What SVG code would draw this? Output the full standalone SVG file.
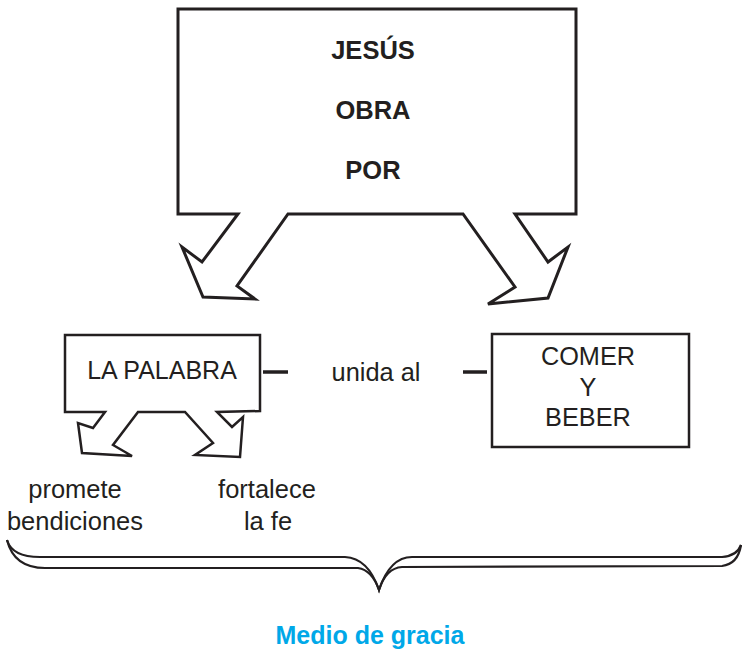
<svg xmlns="http://www.w3.org/2000/svg" width="742" height="654" viewBox="0 0 742 654">
<style>
.shape{fill:#fff;stroke:#231f20;stroke-width:3;stroke-linejoin:miter}
.box{fill:#fff;stroke:#231f20;stroke-width:2.5}
.t{font-family:"Liberation Sans",Arial,sans-serif;fill:#231f20;text-anchor:middle}
.b{font-weight:bold}
.dash{stroke:#231f20;stroke-width:3.5}
.brace{fill:none;stroke:#231f20;stroke-width:2.2}
</style>
<rect width="742" height="654" fill="#fff"/>
<g id="jesus">
<path class="shape" d="M178,9 L576,9 L576,214 L515,214 L548,262 L568,247 L548,298 L488,304 L515,287 L463,214 L288,214 L237,286 L255,299 L203,297 L182,247 L202,262 L238,214 L178,214 Z"/>
<text class="t b" x="373" y="59" font-size="25.5">JESÚS</text>
<text class="t b" x="373" y="119" font-size="25.5">OBRA</text>
<text class="t b" x="373" y="179" font-size="25.5">POR</text>
</g>
<g id="palabra">
<path class="box" d="M65,335 L260,335 L260,411 L217,412 L232,427 L243,417 L240,457 L195,455 L213,443 L185,412 L138,412 L113,445 L132,456 L82,453 L78,423 L93,428 L105,412 L65,412 Z"/>
<text class="t" x="162" y="379" font-size="25">LA PALABRA</text>
</g>
<g id="comer">
<rect class="box" x="492" y="334" width="197" height="113"/>
<text class="t" x="588" y="365" font-size="25.3">COMER</text>
<text class="t" x="588" y="396" font-size="25.3">Y</text>
<text class="t" x="588" y="426" font-size="25.3">BEBER</text>
</g>
<g id="connectors">
<line class="dash" x1="263" y1="372" x2="288" y2="372"/>
<line class="dash" x1="463" y1="372" x2="487" y2="372"/>
<text class="t" x="376" y="381" font-size="25.4">unida al</text>
</g>
<g id="labels">
<text class="t" x="75" y="498" font-size="25.5">promete</text>
<text class="t" x="75" y="530" font-size="25.5">bendiciones</text>
<text class="t" x="267" y="498" font-size="25.5">fortalece</text>
<text class="t" x="268" y="530" font-size="25.5">la fe</text>
</g>
<g id="brace">
<path class="brace" d="M7,540 Q12,557 40,557 L345,557 Q368,558 379,590 Q390,557 412,557 L722,557 Q737,556 741,545"/>
<path class="brace" d="M7,540 Q14,568 45,568 L358,568 Q372,570 379,590 Q386,568 402,567 L722,566 Q738,564 741,545"/>
</g>
<text class="t b" x="370" y="644" font-size="25" style="fill:#00a8e8">Medio de gracia</text>
</svg>
